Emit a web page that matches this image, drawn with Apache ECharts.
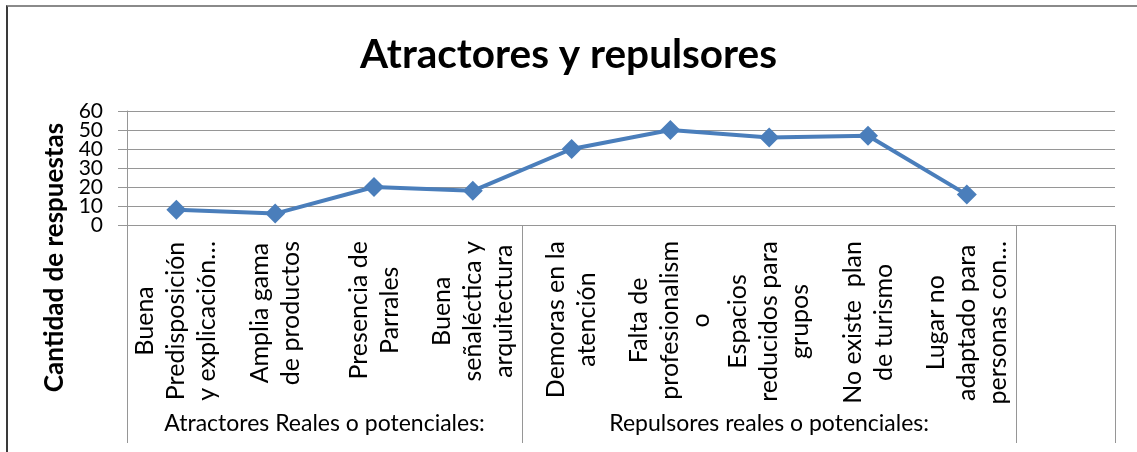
<!DOCTYPE html>
<html>
<head>
<meta charset="utf-8">
<script src="https://cdn.jsdelivr.net/npm/echarts@6/dist/echarts.min.js"></script>
<style>
  html, body { margin: 0; padding: 0; background: #fff; }
  #chart { position: absolute; left: 0; top: 0; width: 1137px; height: 452px; }
  .frame {
    position: absolute; left: 6px; top: 5px; width: 1200px; height: 500px;
    border-top: 2px solid #8a8a8a; border-left: 2px solid #3a3a3a;
    pointer-events: none;
  }
</style>
</head>
<body>
<div id="chart"></div>
<div class="frame"></div>
<script>
  // categories as printed under the axis (line breaks as in the original)
  const categories = [
    'Buena\nPredisposición\ny explicación…',
    'Amplia gama\nde productos',
    'Presencia de\nParrales',
    'Buena\nseñaléctica y\narquitectura',
    'Demoras en la\natención',
    'Falta de\nprofesionalism\no',
    'Espacios\nreducidos para\ngrupos',
    'No existe  plan\nde turismo',
    'Lugar no\nadaptado para\npersonas con…',
    ''
  ]
  const respuestas = [8, 6, 20, 18, 40, 50, 46, 47, 16]
  const groupNames = ['Atractores Reales o potenciales:', 'Repulsores reales o potenciales:', '']
  const groupSizes = [4, 5, 1]
  const yTicks = [0, 10, 20, 30, 40, 50, 60]

  // group boundaries and centres on a 0..n scale
  let bounds = [0]
  groupSizes.forEach(s => bounds.push(bounds[bounds.length - 1] + s))
  let centers = []
  groupSizes.forEach((s, i) => { if (groupNames[i]) centers.push(bounds[i] + s / 2) })

  // the tick labels sit closer than their own height, so they are split
  // over two overlaid axes to stop echarts from dropping every other one
  const evenTicks = yTicks.filter((v, i) => i % 2 === 0)
  const oddTicks = yTicks.filter((v, i) => i % 2 === 1)

  const font = 'Lato'
  const gray = '#969696'
  const yLabel = { margin: 24, fontFamily: font, fontSize: 21, color: '#000' }

  let chart = echarts.init(document.getElementById('chart'))
  chart.setOption({
    animation: false,
    title: {
      text: 'Atractores y repulsores',
      left: 'center',
      top: 29,
      textStyle: { fontFamily: font, fontSize: 40.5, fontWeight: 'bold', color: '#000' }
    },
    grid: { left: 127, right: 22, top: 111, bottom: 227, outerBoundsMode: 'none' },
    xAxis: [
      {
        type: 'category',
        data: categories,
        boundaryGap: true,
        axisLine: { show: true, lineStyle: { color: gray, width: 1 } },
        axisTick: { show: false },
        axisLabel: {
          interval: 0,
          rotate: 90,
          margin: 16,
          formatter (val) {
            return val.split('\n').map(s => '{c|' + s + '}').join('\n')
          },
          rich: {
            c: { align: 'center', fontFamily: font, fontSize: 25, lineHeight: 31, color: '#000' }
          }
        }
      },
      {
        type: 'value',
        position: 'bottom',
        min: 0,
        max: bounds[bounds.length - 1],
        axisLine: { show: false },
        splitLine: { show: false },
        axisTick: {
          show: true,
          length: 218,
          customValues: bounds,
          lineStyle: { color: gray, width: 1 }
        },
        axisLabel: {
          margin: 187,
          customValues: centers,
          formatter (val) {
            let i = centers.indexOf(val)
            return groupNames.filter(n => n)[i] || ''
          },
          fontFamily: font,
          fontSize: 23,
          color: '#000'
        }
      }
    ],
    yAxis: [
      {
        type: 'value',
        position: 'left',
        min: yTicks[0],
        max: yTicks[yTicks.length - 1],
        interval: 10,
        name: 'Cantidad de respuestas',
        nameLocation: 'middle',
        nameGap: 56,
        nameTextStyle: {
          fontFamily: font, fontSize: 26, fontWeight: 'bold', color: '#000',
          padding: [0, 179, 0, 0]
        },
        axisLine: { show: true, onZero: false, lineStyle: { color: gray, width: 1 } },
        axisTick: { show: true, length: 9, lineStyle: { color: gray } },
        axisLabel: Object.assign({ customValues: evenTicks, showMinLabel: true, showMaxLabel: true }, yLabel),
        splitLine: { lineStyle: { color: gray, width: 1 } }
      },
      {
        type: 'value',
        position: 'left',
        offset: 0,
        min: yTicks[0],
        max: yTicks[yTicks.length - 1],
        interval: 10,
        axisLine: { show: false, onZero: false },
        axisTick: { show: false },
        splitLine: { show: false },
        axisLabel: Object.assign({ customValues: oddTicks, showMinLabel: true, showMaxLabel: true }, yLabel)
      }
    ],
    series: [
      {
        type: 'line',
        data: respuestas,
        symbol: 'diamond',
        symbolSize: 20,
        lineStyle: { color: '#4a7ebb', width: 4 },
        itemStyle: { color: '#4a7ebb' }
      }
    ]
  })
</script>
</body>
</html>
